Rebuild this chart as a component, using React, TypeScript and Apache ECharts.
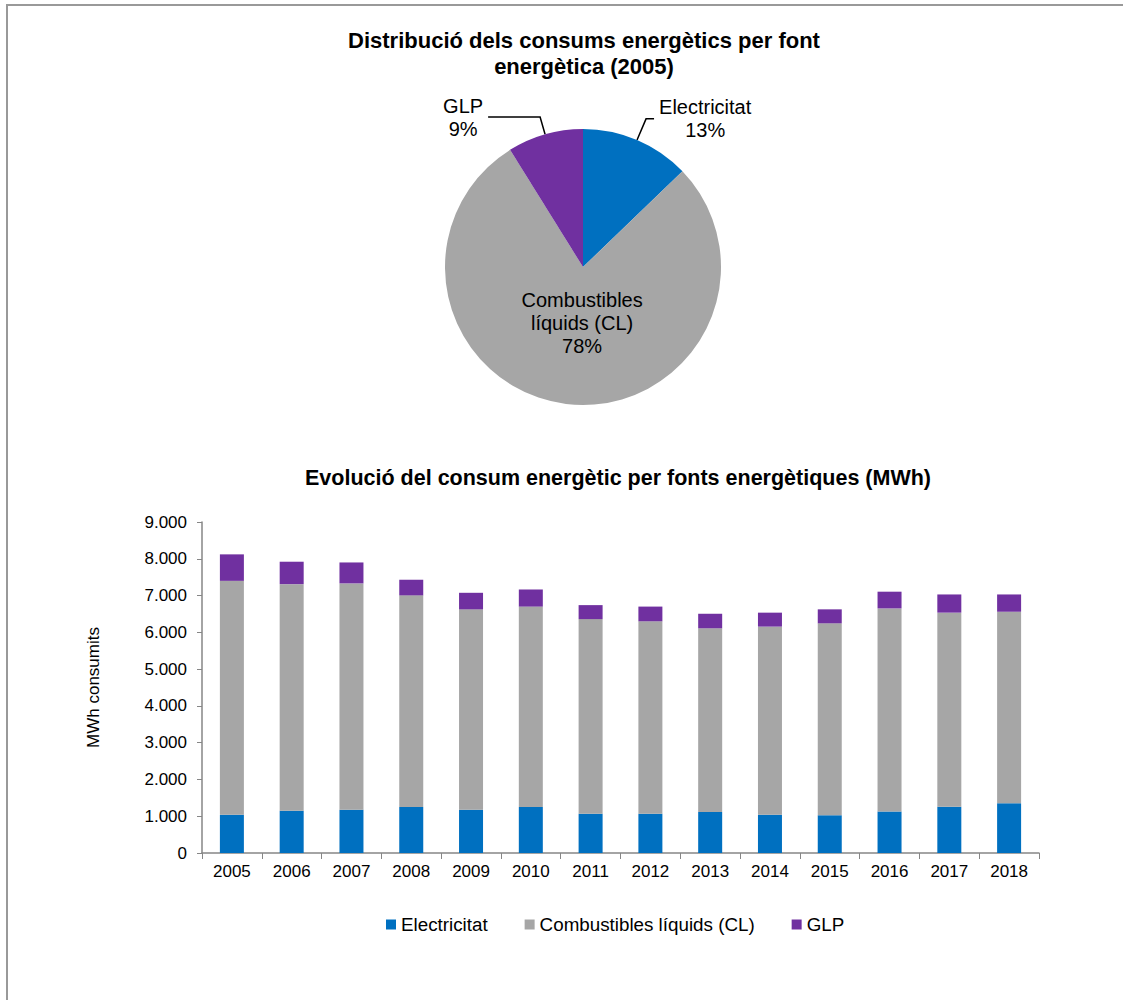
import React, { useEffect, useRef } from "react";
import * as echarts from "echarts";

const years = ["2005","2006","2007","2008","2009","2010","2011","2012","2013","2014","2015","2016","2017","2018"];
const seriesNames = ["Electricitat", "Combustibles líquids (CL)", "GLP"];
const electricitat = [1040,1150,1175,1250,1175,1250,1070,1070,1115,1040,1025,1130,1260,1350];
const combustibles = [6360,6160,6155,5755,5450,5450,5290,5230,4995,5115,5220,5520,5275,5210];
const glp = [720,610,570,425,450,465,380,400,395,380,380,455,495,470];
const colors = ["#0070C0", "#A6A6A6", "#7030A0"];
const yTicks = [0,1000,2000,3000,4000,5000,6000,7000,8000,9000];
const pieTitle = "Distribució dels consums energètics per font\nenergètica (2005)";
const barTitle = "Evolució del consum energètic per fonts energètiques (MWh)";
const yAxisName = "MWh consumits";
const pieYearIndex = 0;

const FONT = "'Liberation Sans', Arial, sans-serif";

function fmtThousands(v: number) {
  return String(v).replace(/\B(?=(\d{3})+(?!\d))/g, ".");
}

export default function App() {
  const ref = useRef<HTMLDivElement>(null);
  useEffect(() => {
    if (!ref.current) return;
    const chart = echarts.init(ref.current, null, { renderer: "svg" });
    const values = [electricitat, combustibles, glp];
    const pieData = seriesNames.map((n, i) => {
      const item: any = { name: n, value: values[i][pieYearIndex], itemStyle: { color: colors[i] } };
      if (i === 1) {
        item.label = { position: "inside", offset: [8, -15] };
      } else if (i === 0) {
        item.labelLine = { length: 23, length2: 8 };
      } else {
        item.labelLine = { length: 18, length2: 52 };
      }
      return item;
    });
    const option: any = {
      animation: false,
      backgroundColor: "#fff",
      textStyle: { fontFamily: FONT },
      graphic: [
        { type: "rect", shape: { x: 7, y: 5, width: 1300, height: 1200 }, style: { fill: "none", stroke: "#999999", lineWidth: 2 }, silent: true },
        { type: "text", x: 584, y: 53, style: { text: pieTitle, align: "center", verticalAlign: "middle", font: "bold 22px " + FONT, lineHeight: 26, fill: "#000" } },
        { type: "text", x: 618, y: 478, style: { text: barTitle, align: "center", verticalAlign: "middle", font: "bold 21.5px " + FONT, fill: "#000" } },
      ],
      legend: {
        data: seriesNames,
        left: 381,
        top: 910,
        itemWidth: 10,
        itemHeight: 10,
        itemGap: 37,
        icon: "rect",
        textStyle: { fontSize: 18.8, color: "#000", fontFamily: FONT },
      },
      grid: { left: 202, right: 84, top: 522, bottom: 147, containLabel: false },
      xAxis: {
        type: "category",
        data: years,
        axisLine: { lineStyle: { color: "#868686", width: 1.5 } },
        axisTick: { show: true, length: 6, lineStyle: { color: "#868686" } },
        axisLabel: { fontSize: 17, color: "#000", margin: 10, fontFamily: FONT },
      },
      yAxis: {
        type: "value",
        min: yTicks[0],
        max: yTicks[yTicks.length - 1],
        interval: yTicks[1] - yTicks[0],
        name: yAxisName,
        nameLocation: "middle",
        nameGap: 100,
        nameTextStyle: { fontSize: 17, color: "#000", fontFamily: FONT },
        axisLine: { show: true, lineStyle: { color: "#868686", width: 1.5 } },
        axisTick: { show: true, length: 5, lineStyle: { color: "#868686" } },
        splitLine: { show: false },
        axisLabel: { fontSize: 17, color: "#000", margin: 15, fontFamily: FONT, formatter: (v: number) => fmtThousands(v) },
      },
      series: [
        ...seriesNames.map((n, i) => ({
          name: n,
          type: "bar",
          stack: "total",
          barWidth: 24,
          data: values[i],
          itemStyle: { color: colors[i] },
        })),
        {
          type: "pie",
          center: [583, 267],
          radius: 138,
          startAngle: 90,
          clockwise: true,
          data: pieData,
          label: {
            show: true,
            position: "outside",
            fontSize: 20,
            color: "#000",
            fontFamily: FONT,
            lineHeight: 23,
            formatter: (p: any) => {
              const name = p.dataIndex === 1 ? p.name.replace(" ", "\n") : p.name;
              const lines = (name + "\n" + Math.round(p.percent) + "%").split("\n");
              return lines.map((l: string) => "{c|" + l + "}").join("\n");
            },
            rich: { c: { align: "center", fontSize: 20, color: "#000", fontFamily: FONT, lineHeight: 23 } },
          },
          labelLine: { show: true, lineStyle: { color: "#000", width: 1.5 } },
          emphasis: { disabled: true },
        },
      ],
    };
    chart.setOption(option);
    return () => chart.dispose();
  }, []);
  return <div ref={ref} style={{ position: "absolute", left: 0, top: 0, width: 1123, height: 1000 }} />;
}
